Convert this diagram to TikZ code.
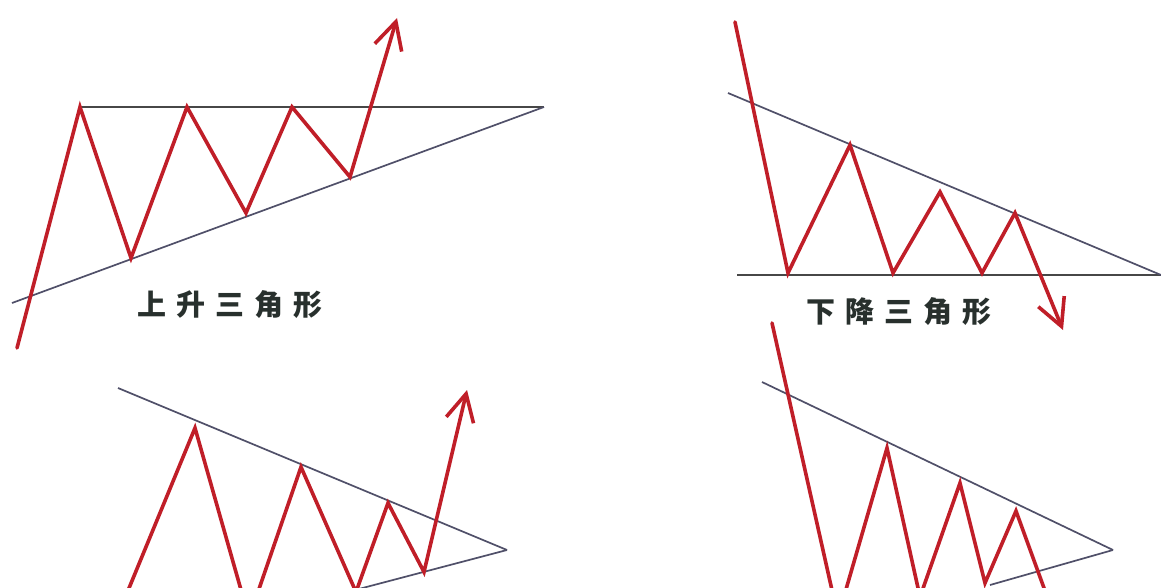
\documentclass[tikz,border=0pt]{standalone}
\usepackage{fontspec}
\newfontfamily\cjk{Noto Sans CJK SC}
\usetikzlibrary{arrows.meta}
\definecolor{pricered}{RGB}{192,30,40}
\definecolor{trendgray}{RGB}{80,80,105}
\definecolor{labelink}{RGB}{40,48,45}
\newcommand{\tgap}{\hspace{10pt}}

\begin{document}
\begin{tikzpicture}[x=1pt, y=-1pt,
  price/.style={draw=pricered, line width=3.6pt, line join=miter, line cap=round},
  trend/.style={draw=trendgray, line width=1.7pt},
  flat/.style={draw=black!72, line width=2.8pt},
  arr/.style={-{Straight Barb[length=27pt, width=28pt]}},
  tag/.style={font=\cjk\bfseries\fontsize{29}{29}\selectfont, text=labelink, inner sep=0pt}
]
\useasboundingbox (0,0) rectangle (1161,588);
\fill[white] (0,0) rectangle (1161,588);
\clip (0,0) rectangle (1161,588);

% apexes of the four triangles
\coordinate (asc apex) at (544,107);
\coordinate (desc apex) at (1161,275);
\coordinate (symL apex) at (507,550);
\coordinate (symR apex) at (1113,550);

% ascending triangle
\draw[flat] (80,107) -- (asc apex);
\draw[trend] (12,303) -- (asc apex);
\draw[price, arr] (17,348) -- (80,107) -- (131,258) -- (187,107) -- (246,213)
  -- (292,107) -- (350,177) -- (397,18);
\node[tag] (asc label) at (230,305) {上\tgap 升\tgap 三\tgap 角\tgap 形};

% descending triangle
\draw[flat] (737,275) -- (desc apex);
\draw[trend] (728,93) -- (desc apex);
\draw[price, arr] (735,22) -- (788,273) -- (850,145) -- (893,273) -- (940,192)
  -- (982,273) -- (1015,213) -- (1063,330);
\node[tag] (desc label) at (899,312) {下\tgap 降\tgap 三\tgap 角\tgap 形};

% symmetric triangle, breaking up
\draw[trend] (118,388) -- (symL apex);
\draw[trend] (355,590) -- (symL apex);
\draw[price, arr] (120,610) -- (195,428) -- (249,618) -- (301,467) -- (356,592)
  -- (388,503) -- (424,572) -- (467,390);

% symmetric triangle, breaking down
\draw[trend] (762,382) -- (symR apex);
\draw[trend] (990,585) -- (symR apex);
\draw[price] (772,323) -- (838,617) -- (887,448) -- (920,597) -- (960,483)
  -- (985,583) -- (1016,511) -- (1052,610);
\end{tikzpicture}
\end{document}
